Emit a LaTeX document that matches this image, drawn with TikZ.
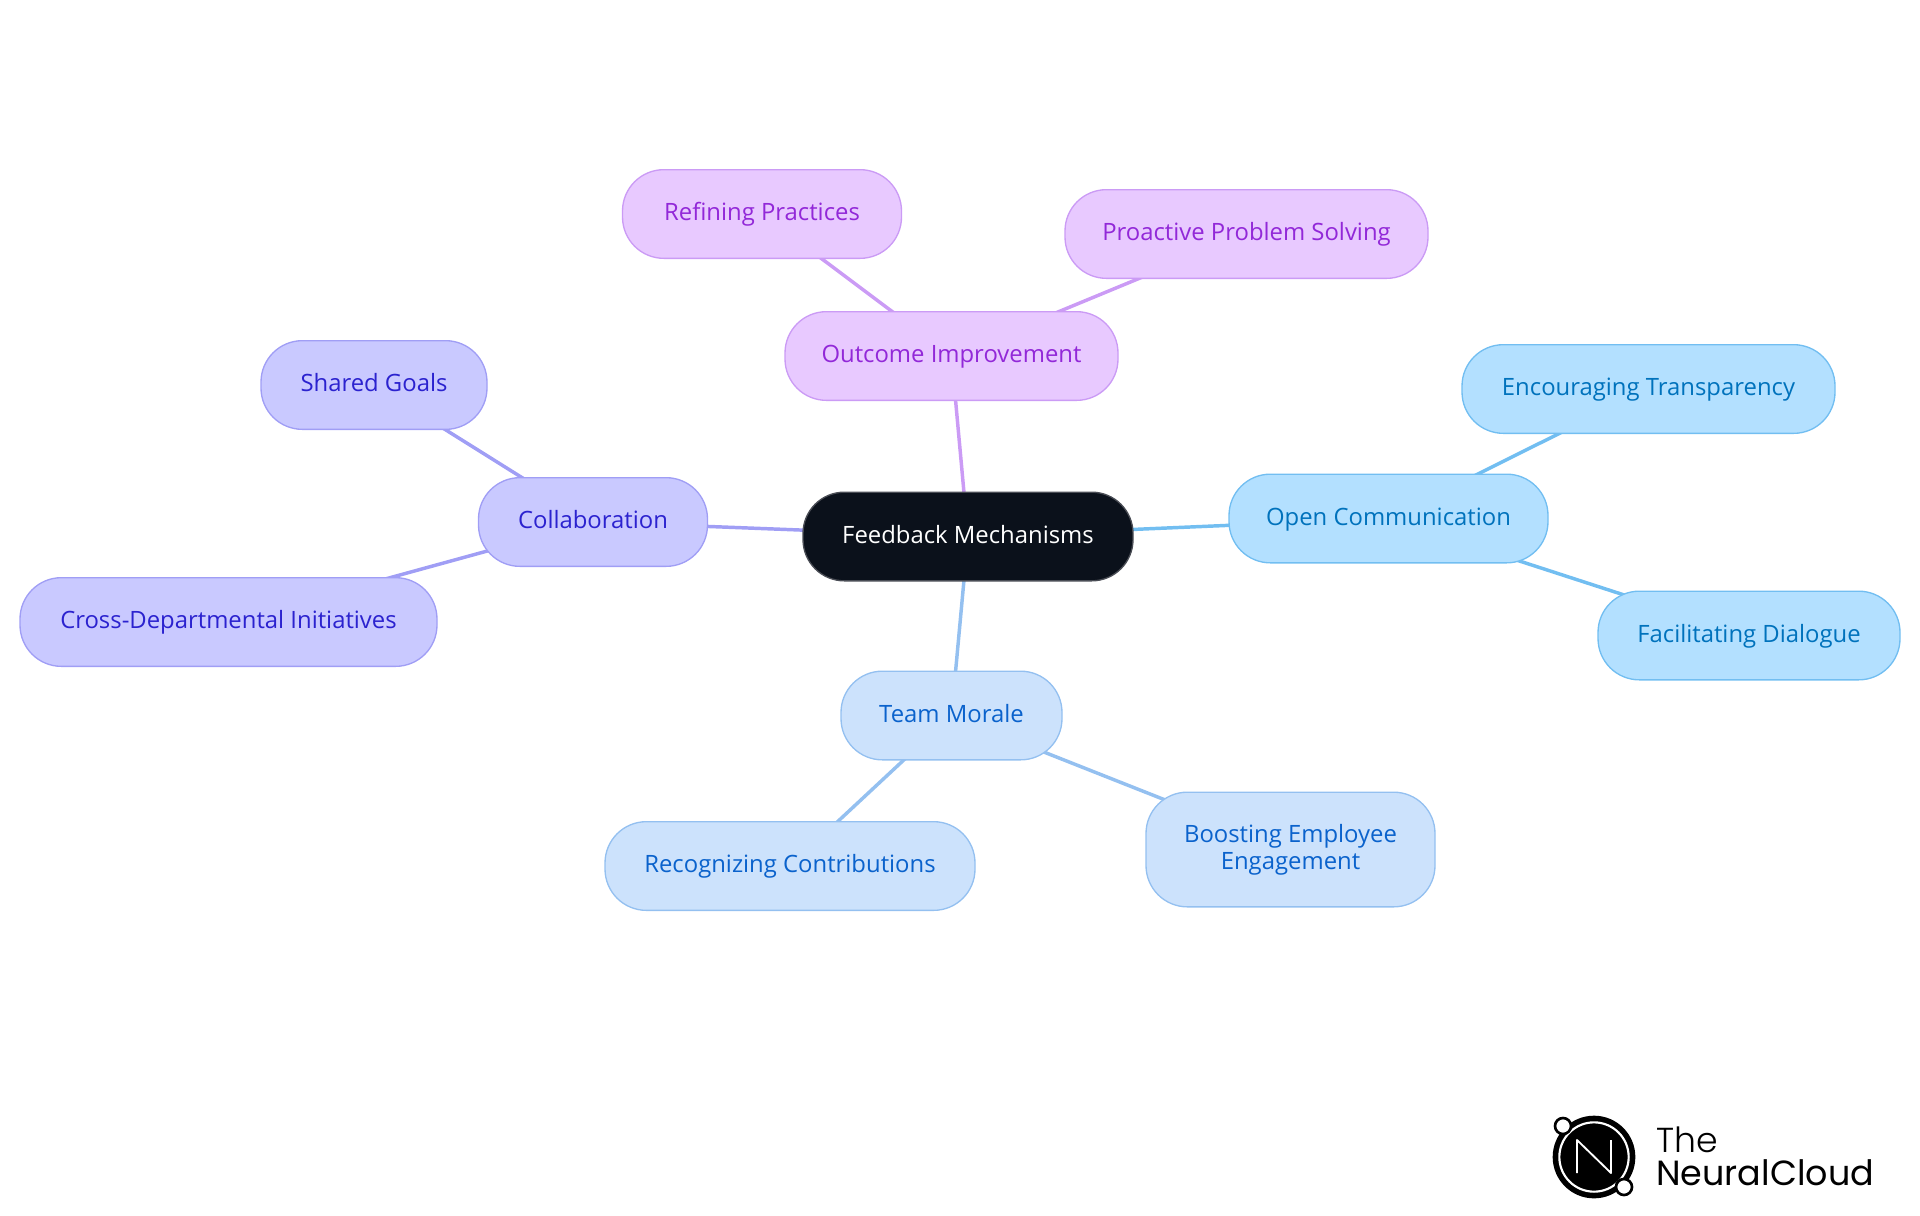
\documentclass[tikz,border=0pt]{standalone}
\usepackage{fontspec}
\setmainfont{Open Sans}
\newfontfamily\logofont{Poppins Light}
\newfontfamily\logobold{Poppins}
\usetikzlibrary{backgrounds}

\definecolor{rootfill}{HTML}{0B111B}
\definecolor{rootline}{HTML}{4A4D55}
\definecolor{openfill}{HTML}{B3E0FF}
\definecolor{openline}{HTML}{72BEF1}
\definecolor{opentext}{HTML}{0072BC}
\definecolor{teamfill}{HTML}{CCE2FC}
\definecolor{teamline}{HTML}{94C0F0}
\definecolor{teamtext}{HTML}{0A62CC}
\definecolor{collfill}{HTML}{C9C9FF}
\definecolor{collline}{HTML}{A09EF5}
\definecolor{colltext}{HTML}{2B22CF}
\definecolor{outcfill}{HTML}{E8C9FF}
\definecolor{outcline}{HTML}{CB9BF5}
\definecolor{outctext}{HTML}{9228D8}

\begin{document}
\begin{tikzpicture}[
        x=0.75pt,
        y=-0.75pt,
        bubble/.style={rounded corners=31pt, minimum height=66.5pt, line width=1pt,
            font=\fontsize{17.9}{20.5}\selectfont, inner sep=0pt,
            text height=13pt, text depth=2.6pt},
        wide/.style={minimum width=#1*0.75pt},
        root/.style={bubble, draw=rootline, fill=rootfill, text=white},
        open/.style={bubble, draw=openline, fill=openfill, text=opentext},
        team/.style={bubble, draw=teamline, fill=teamfill, text=teamtext},
        coll/.style={bubble, draw=collline, fill=collfill, text=colltext},
        outc/.style={bubble, draw=outcline, fill=outcfill, text=outctext},
        edge/.style={line width=2.6pt},
        moon/.style={circle, draw=black, line width=2pt, fill=white, minimum size=12pt, inner sep=0pt},
        brand/.style={anchor=base west, inner sep=0pt}]

        \useasboundingbox (0,0) rectangle (1920,1215);

        % NODES
        % centre
        \node[root, wide=330] (feedback) at (968,536.5) {Feedback Mechanisms};
        % outcome
        \node[outc, wide=333] (outcome) at (951.5,356) {Outcome Improvement};
        \node[outc, wide=279] (refining) at (762,214) {Refining Practices};
        \node[outc, wide=363] (proactive) at (1246.5,234) {Proactive Problem Solving};
        % collaboration
        \node[coll, wide=229] (collab) at (593,522) {Collaboration};
        \node[coll, wide=226] (shared) at (374,385) {Shared Goals};
        \node[coll, wide=417] (cross) at (228.5,622) {Cross-Departmental Initiatives};
        % open communication
        \node[open, wide=319] (opencomm) at (1388.5,518.5) {Open Communication};
        \node[open, wide=373] (transparency) at (1648.5,389) {Encouraging Transparency};
        \node[open, wide=302] (dialogue) at (1749,635.5) {Facilitating Dialogue};
        % team morale
        \node[team, wide=221] (morale) at (951.5,715.5) {Team Morale};
        \node[team, wide=370] (recognizing) at (790,866) {Recognizing Contributions};
        \node[team, wide=289, minimum height=86pt, align=center, text height=, text depth=] (boosting) at (1290.5,849.5) {Boosting Employee\\Engagement};

        % LINES
        \begin{scope}[on background layer]
            \draw[edge, outcline] (feedback.center)--(outcome.center);
            \draw[edge, outcline] (outcome.center)--(refining.center);
            \draw[edge, outcline] (outcome.center)--(proactive.center);
            \draw[edge, collline] (feedback.center)--(collab.center);
            \draw[edge, collline] (collab.center)--(shared.center);
            \draw[edge, collline] (collab.center)--(cross.center);
            \draw[edge, openline] (feedback.center)--(opencomm.center);
            \draw[edge, openline] (opencomm.center)--(transparency.center);
            \draw[edge, openline] (opencomm.center)--(dialogue.center);
            \draw[edge, teamline] (feedback.center)--(morale.center);
            \draw[edge, teamline] (morale.center)--(recognizing.center);
            \draw[edge, teamline] (morale.center)--(boosting.center);
        \end{scope}

        % LOGO
        \node[circle, fill=black, minimum size=62pt, inner sep=0pt] (logo) at (1594,1157) {};
        \node[circle, draw=white, line width=1.6pt, minimum size=52pt, inner sep=0pt] (logoring) at (logo.center) {};
        \node[moon] (moona) at (1563,1126) {};
        \node[moon] (moonb) at (1624,1187) {};
        \coordinate (na) at (1577,1173);
        \coordinate (nb) at (1577,1140);
        \coordinate (nc) at (1611,1173);
        \coordinate (nd) at (1611,1140);
        \draw[white, line width=1.4pt, line join=round] (na)--(nb)--(nc)--(nd);
        \node[brand, font=\logofont\fontsize{26}{30}\selectfont] (logothe) at (1656,1152) {The};
        \node[brand, font=\logobold\fontsize{26.2}{30}\selectfont] (logoname) at (1656,1185) {NeuralCloud};
\end{tikzpicture}
\end{document}
